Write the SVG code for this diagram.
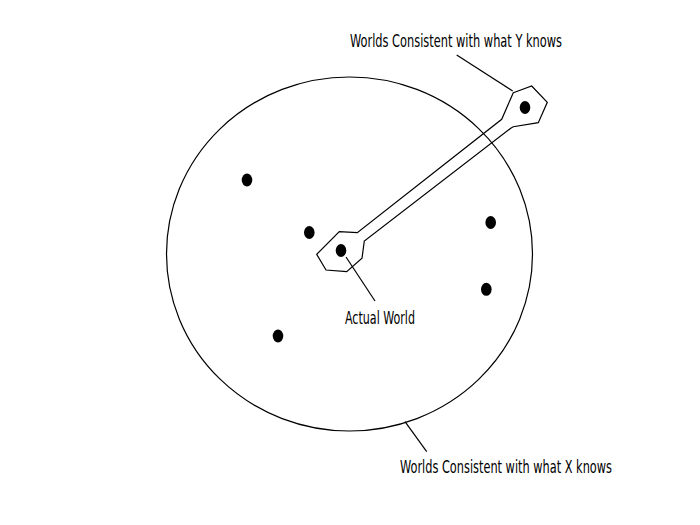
<svg xmlns="http://www.w3.org/2000/svg" width="700" height="525" viewBox="0 0 700 525">
<style>
.line{fill:none;stroke:#000;stroke-width:1.2}
.dot{fill:#000}
.lbl{font-family:"Liberation Sans Narrow","DejaVu Sans Condensed","Liberation Sans",sans-serif;font-size:17px;fill:#000}
</style>
<rect width="700" height="525" fill="#fff"/>
<g id="x-worlds">
<ellipse class="line" cx="349.5" cy="254" rx="183" ry="177"/>
</g>
<g id="y-worlds">
<path class="line" d="M513.3,92.7 L531.7,86 L547.3,102.3 L538.3,122.7 L513.3,126.7 L510.7,128.3 L364.3,241 L362,258.3 L346.7,271.7 L326,270 L316.7,254.3 L339.3,231.7 L357.3,232.7 L501.7,119.3 Z"/>
</g>
<g id="worlds">
<ellipse class="dot" cx="247" cy="180" rx="5.3" ry="6.5"/>
<ellipse class="dot" cx="309.3" cy="232.5" rx="5.3" ry="6.5"/>
<ellipse class="dot" cx="341" cy="250.5" rx="5.3" ry="6.5"/>
<ellipse class="dot" cx="490.7" cy="222.5" rx="5.3" ry="6.5"/>
<ellipse class="dot" cx="486.3" cy="289.3" rx="5.3" ry="6.5"/>
<ellipse class="dot" cx="278" cy="336" rx="5.3" ry="6.5"/>
<ellipse class="dot" cx="525" cy="107.5" rx="5.3" ry="6.5"/>
</g>
<g id="connectors">
<line class="line" x1="456.7" y1="55" x2="512.7" y2="91"/>
<line class="line" x1="346" y1="257" x2="375" y2="301"/>
<line class="line" x1="405" y1="421.7" x2="426.7" y2="451.7"/>
</g>
<g id="label-y">
<text class="lbl" x="350" y="46.7" textLength="212" lengthAdjust="spacingAndGlyphs">Worlds Consistent with what Y knows</text>
</g>
<g id="label-actual">
<text class="lbl" x="345" y="324.3" textLength="70" lengthAdjust="spacingAndGlyphs">Actual World</text>
</g>
<g id="label-x">
<text class="lbl" x="400" y="473.3" textLength="212" lengthAdjust="spacingAndGlyphs">Worlds Consistent with what X knows</text>
</g>
</svg>
